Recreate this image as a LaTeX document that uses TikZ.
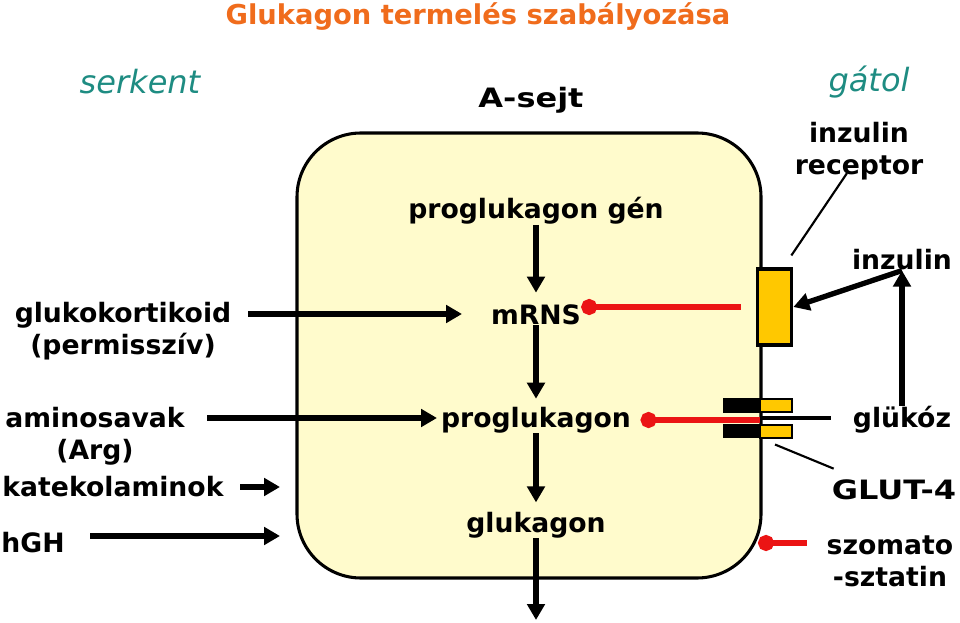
\documentclass[tikz,border=0pt]{standalone}
\usepackage{fontspec}
\setmainfont{DejaVu Sans}
\newfontfamily\widefont[FakeStretch=1.2]{DejaVu Sans}
\usetikzlibrary{arrows.meta,calc}
\definecolor{ttl}{RGB}{240,108,28}
\definecolor{tealc}{RGB}{30,140,130}
\definecolor{cellc}{RGB}{255,251,204}
\definecolor{rgold}{RGB}{255,200,0}
\definecolor{inhred}{RGB}{235,20,20}
\begin{document}
\begin{tikzpicture}[x=0.75pt,y=-0.75pt,
  lbl/.style={font=\bfseries\fontsize{20}{24}\selectfont, align=center, inner sep=0pt},
  widelbl/.style={font=\widefont\bfseries\fontsize{20}{24}\selectfont, align=center, inner sep=0pt},
  ttlstyle/.style={font=\bfseries\fontsize{20.5}{24}\selectfont, text=ttl, inner sep=0pt},
  hint/.style={font=\itshape\fontsize{24}{28}\selectfont, text=tealc, inner sep=0pt},
  arr/.style={line width=4pt, -{Triangle[length=12pt,width=13pt]}},
  inh/.style={line width=3.8pt, draw=inhred, {Circle[length=12pt]}-},
  ptr/.style={line width=1.6pt},
  memb/.style={line width=3.6pt},
  blk/.style={draw=black, fill=black, line width=1pt, inner sep=0pt, minimum width=27pt, minimum height=9.75pt},
  ylw/.style={draw=black, fill=rgold, line width=1.5pt, inner sep=0pt, minimum width=24pt, minimum height=9.75pt}]
\useasboundingbox (0,0) rectangle (960,623);
% cell
\draw[line width=2.3pt, fill=cellc, rounded corners=48pt] (297,133) rectangle (761,578);
% texts
\node[ttlstyle] (title) at (478,17) {Glukagon termelés szabályozása};
\node[hint] (serk) at (140,82) {serkent};
\node[hint] (gat) at (869,82) {gátol};
\node[widelbl] (asejt) at (531,100) {A-sejt};
\node[lbl] (gen) at (536,211) {proglukagon gén};
\node[lbl] (rec) at (859,151) {inzulin\\receptor};
\node[lbl] (inz) at (902,260) {inzulin};
\node[lbl] (gk) at (123,331) {glukokortikoid\\(permisszív)};
\node[lbl] (mrns) at (536,315) {mRNS};
\node[lbl] (amino) at (95,436) {aminosavak\\(Arg)};
\node[lbl] (prog) at (536,420) {proglukagon};
\node[lbl] (gluk) at (902,420) {glükóz};
\node[lbl] (kat) at (113,487) {katekolaminok};
\node[widelbl] (glut) at (894,490) {GLUT-4};
\node[lbl] (hgh) at (33,543) {hGH};
\node[lbl] (glg) at (536,525) {glukagon};
\node[lbl] (szom) at (890,561) {szomato\\-sztatin};
% receptor and GLUT-4
\node[draw=black, fill=rgold, line width=2.3pt, inner sep=0pt, minimum width=26pt, minimum height=57pt] (recbox) at (774.5,307) {};
\node[blk] (gb1) at (742,405.5) {};
\node[blk] (gb2) at (742,431) {};
\node[ylw] (gy1) at (776,405.5) {};
\node[ylw] (gy2) at (776,431) {};
% free ends
\coordinate (gkE) at (248,314);
\coordinate (amE) at (207,418);
\coordinate (katE) at (240,487);
\coordinate (katT) at (280,487);
\coordinate (hghE) at (90,536);
\coordinate (hghT) at (280,536);
\coordinate (out) at (536,620);
\coordinate (mem) at (760,418);
\coordinate (szD) at (758,543);
\coordinate (szE) at (807,543);
% main pathway
\draw[arr, shorten >=9pt] (gen.south) -- (mrns.north);
\draw[arr, shorten >=6pt] (mrns.south) -- (prog.north);
\draw[arr, shorten >=7pt] (prog.south) -- (glg.north);
\draw[arr] (glg.south) -- (out);
% stimulators
\draw[arr] (gkE) -- (462,314);
\draw[arr] (amE) -- (437,418);
\draw[arr] (katE) -- (katT);
\draw[arr] (hghE) -- (hghT);
% inhibitors
\draw[inh, shorten >=11pt] ([yshift=6pt]mrns.east) -- ([yshift=6pt]mrns.east -| recbox.west);
\draw[inh, shorten <=7pt] (prog.east) -- (prog.east -| mem);
\draw[memb, shorten >=16pt] (mem) -- (mem -| gluk.west);
\draw[inh] (szD) -- (szE);
% insulin
\draw[arr] (gluk.north) -- (inz.south);
\draw[arr] (inz.south) -- (recbox.east);
\draw[ptr] ([shift={(-2,-12)}]recbox.north east) -- ([shift={(-12,-7)}]rec.south);
\draw[ptr] ([shift={(-1,6)}]gy2.south) -- ([shift={(2,-11)}]glut.north west);
\end{tikzpicture}
\end{document}
